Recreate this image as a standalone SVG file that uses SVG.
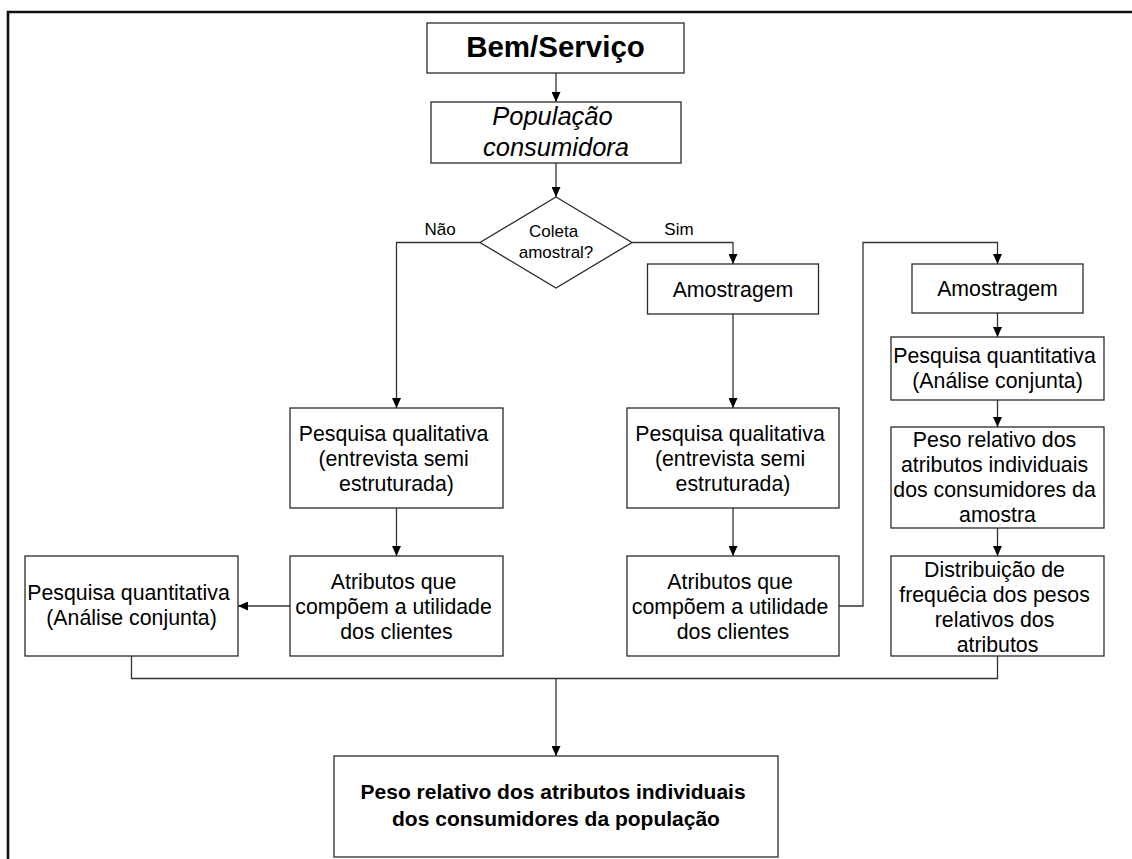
<svg xmlns="http://www.w3.org/2000/svg" width="1132" height="859" viewBox="0 0 1132 859">
  <defs>
    <style>
      .box { fill: #fff; stroke: #2a2a2a; stroke-width: 1.3; }
      .wire { fill: none; stroke: #333; stroke-width: 1.3; }
      .frame { fill: none; stroke: #111; stroke-width: 2.6; }
      text { font-family: "Liberation Sans", Arial, sans-serif; fill: #000; text-anchor: middle; }
      .t { font-size: 21.3px; }
      .lbl { font-size: 17px; }
      .title { font-size: 29.5px; font-weight: bold; }
      .pop { font-size: 25.5px; font-style: italic; }
      .final { font-size: 21px; font-weight: bold; }
    </style>
    <marker id="arrow" markerUnits="userSpaceOnUse" markerWidth="10" markerHeight="9" refX="10" refY="4.5" orient="auto">
      <path d="M0,0 L10,4.5 L0,9 z" fill="#000"/>
    </marker>
  </defs>

  <rect width="1132" height="859" fill="#fff"/>

  <!-- page frame (top and left edges) -->
  <path class="frame" d="M8,859 V12 H1132"/>

  <!-- connectors -->
  <g id="connectors">
    <path class="wire" d="M556,73 V102" marker-end="url(#arrow)"/>
    <path class="wire" d="M556,163 V197" marker-end="url(#arrow)"/>
    <path class="wire" d="M480,242.5 H396.5 V408" marker-end="url(#arrow)"/>
    <path class="wire" d="M632,242.5 H733 V264" marker-end="url(#arrow)"/>
    <path class="wire" d="M733,314 V408" marker-end="url(#arrow)"/>
    <path class="wire" d="M733,508 V556" marker-end="url(#arrow)"/>
    <path class="wire" d="M396.5,508 V556" marker-end="url(#arrow)"/>
    <path class="wire" d="M290,606 H238" marker-end="url(#arrow)"/>
    <path class="wire" d="M839,606 H863 V242.5 H997.5 V264" marker-end="url(#arrow)"/>
    <path class="wire" d="M997.5,313 V337" marker-end="url(#arrow)"/>
    <path class="wire" d="M997.5,400 V427" marker-end="url(#arrow)"/>
    <path class="wire" d="M997.5,528 V556" marker-end="url(#arrow)"/>
    <path class="wire" d="M131.5,656 V678.5 H997.5 V656"/>
    <path class="wire" d="M556,678.5 V756" marker-end="url(#arrow)"/>
    <text class="lbl" x="440" y="235">Não</text>
    <text class="lbl" x="679" y="235">Sim</text>
  </g>

  <g id="bem-servico">
    <rect class="box" x="427" y="23" width="257" height="50"/>
    <text class="title" x="555.5" y="57">Bem/Serviço</text>
  </g>

  <g id="populacao">
    <rect class="box" x="431" y="102" width="250" height="61"/>
    <text class="pop">
      <tspan x="556" y="125">População</tspan>
      <tspan x="556" y="156">consumidora</tspan>
    </text>
  </g>

  <g id="coleta-amostral">
    <path class="box" d="M556,197 L632,242.5 L556,288 L480,242.5 Z"/>
    <text class="lbl">
      <tspan x="556" y="237">Coleta</tspan>
      <tspan x="556" y="258">amostral?</tspan>
    </text>
  </g>

  <g id="qualitativa-nao">
    <rect class="box" x="290" y="408" width="213" height="100"/>
    <text class="t">
      <tspan x="396.5" y="440.5">Pesquisa qualitativa</tspan>
      <tspan x="396.5" y="465.5">(entrevista semi</tspan>
      <tspan x="396.5" y="490.5">estruturada)</tspan>
    </text>
  </g>

  <g id="atributos-nao">
    <rect class="box" x="290" y="556" width="213" height="100"/>
    <text class="t">
      <tspan x="396.5" y="588.5">Atributos que</tspan>
      <tspan x="396.5" y="613.5">compõem a utilidade</tspan>
      <tspan x="396.5" y="638.5">dos clientes</tspan>
    </text>
  </g>

  <g id="quantitativa-nao">
    <rect class="box" x="25" y="556" width="213" height="100"/>
    <text class="t">
      <tspan x="131.5" y="600">Pesquisa quantitativa</tspan>
      <tspan x="131.5" y="625">(Análise conjunta)</tspan>
    </text>
  </g>

  <g id="amostragem-sim">
    <rect class="box" x="647.5" y="264" width="171" height="50"/>
    <text class="t" x="733" y="296.5">Amostragem</text>
  </g>

  <g id="qualitativa-sim">
    <rect class="box" x="627" y="408" width="212" height="100"/>
    <text class="t">
      <tspan x="733" y="440.5">Pesquisa qualitativa</tspan>
      <tspan x="733" y="465.5">(entrevista semi</tspan>
      <tspan x="733" y="490.5">estruturada)</tspan>
    </text>
  </g>

  <g id="atributos-sim">
    <rect class="box" x="627" y="556" width="212" height="100"/>
    <text class="t">
      <tspan x="733" y="588.5">Atributos que</tspan>
      <tspan x="733" y="613.5">compõem a utilidade</tspan>
      <tspan x="733" y="638.5">dos clientes</tspan>
    </text>
  </g>

  <g id="amostragem-2">
    <rect class="box" x="912" y="264" width="171" height="49"/>
    <text class="t" x="997.5" y="296">Amostragem</text>
  </g>

  <g id="quantitativa-sim">
    <rect class="box" x="891" y="337" width="213" height="63"/>
    <text class="t">
      <tspan x="997.5" y="362.5">Pesquisa quantitativa</tspan>
      <tspan x="997.5" y="387.5">(Análise conjunta)</tspan>
    </text>
  </g>

  <g id="peso-amostra">
    <rect class="box" x="891" y="427" width="213" height="101"/>
    <text class="t">
      <tspan x="997.5" y="447">Peso relativo dos</tspan>
      <tspan x="997.5" y="472">atributos individuais</tspan>
      <tspan x="997.5" y="497">dos consumidores da</tspan>
      <tspan x="997.5" y="522">amostra</tspan>
    </text>
  </g>

  <g id="distribuicao">
    <rect class="box" x="891" y="556" width="213" height="100"/>
    <text class="t">
      <tspan x="997.5" y="576.5">Distribuição de</tspan>
      <tspan x="997.5" y="601.5">frequêcia dos pesos</tspan>
      <tspan x="997.5" y="626.5">relativos dos</tspan>
      <tspan x="997.5" y="651.5">atributos</tspan>
    </text>
  </g>

  <g id="peso-populacao">
    <rect class="box" x="334" y="756" width="444" height="101"/>
    <text class="final">
      <tspan x="556" y="799">Peso relativo dos atributos individuais</tspan>
      <tspan x="556" y="826">dos consumidores da população</tspan>
    </text>
  </g>
</svg>
